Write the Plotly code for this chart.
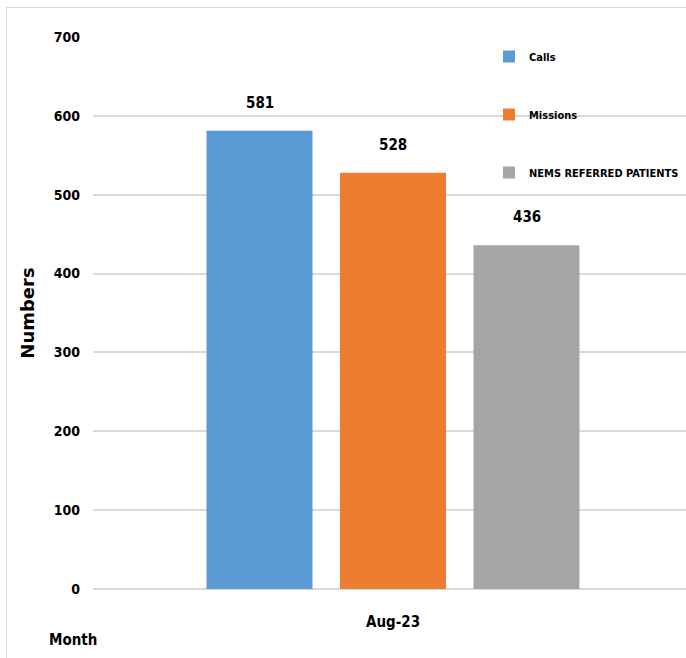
import plotly.graph_objects as go

# Chart data
months = ["Aug-23"]
series_names = ["Calls", "Missions", "NEMS REFERRED PATIENTS"]
series_values = [[581], [528], [436]]
series_colors = ["#5B9BD5", "#ED7D31", "#A5A5A5"]
y_ticks = [0, 100, 200, 300, 400, 500, 600, 700]

W, H = 686, 658
M_L, M_R, M_T, M_B = 93, 0, 37, 69
BARGAP = 0.3325
BARGROUPGAP = 0.206

LABEL_FONT = "Liberation Sans Narrow, Arial Narrow, DejaVu Sans Condensed, sans-serif"

fig = go.Figure()
for name, vals, color in zip(series_names, series_values, series_colors):
    fig.add_trace(go.Bar(
        x=months, y=vals, name=f"<b>{name}</b>", marker_color=color,
        marker_line_width=0, legendgroup=name,
    ))

# Value labels above each bar, positioned from the grouped-bar geometry
n = len(series_names)
slot = (1 - BARGAP) / n
for i, vals in enumerate(series_values):
    for j, v in enumerate(vals):
        fig.add_annotation(
            x=j + (i - (n - 1) / 2) * slot, y=v, xref="x", yref="y",
            text=f"<b>{v}</b>", showarrow=False, yanchor="bottom", yshift=17,
            font=dict(family=LABEL_FONT, size=15, color="#000000"),
        )

pw = W - M_L - M_R
ph = H - M_T - M_B

# "Month" axis caption at the bottom left
fig.add_annotation(
    x=(73 - M_L) / pw, y=-(640 - (H - M_B)) / ph,
    xref="paper", yref="paper", text="<b>Month</b>", showarrow=False,
    xanchor="center", yanchor="middle",
    font=dict(family=LABEL_FONT, size=15, color="#000000"),
)

# Light outer frame of the chart area
fig.add_shape(
    type="rect", xref="paper", yref="paper",
    x0=(6.5 - M_L) / pw, x1=(W + 20 - M_L) / pw,
    y0=-(H + 20 - (H - M_B)) / ph, y1=((H - M_B) - 7.5) / ph,
    line=dict(color="#D9D9D9", width=1), fillcolor="rgba(0,0,0,0)", layer="below",
)

fig.update_layout(
    width=W, height=H,
    margin=dict(l=M_L, r=M_R, t=M_T, b=M_B, autoexpand=False),
    paper_bgcolor="#FFFFFF", plot_bgcolor="#FFFFFF",
    barmode="group", bargap=BARGAP, bargroupgap=BARGROUPGAP,
    font=dict(family=LABEL_FONT, color="#000000"),
    showlegend=True,
    legend=dict(
        x=(489 - M_L) / pw, y=((H - M_B) - 42) / ph, xanchor="left", yanchor="top",
        traceorder="grouped", tracegroupgap=39,
        font=dict(family=LABEL_FONT, size=11, color="#000000"),
        bgcolor="rgba(0,0,0,0)", borderwidth=0,
    ),
    xaxis=dict(
        type="category", range=[-0.5, -0.5 + pw / 600],
        showgrid=False, showline=False, zeroline=False, ticks="",
        tickfont=dict(family=LABEL_FONT, size=15, color="#000000"),
        ticklabelstandoff=22,
    ),
    yaxis=dict(
        range=[0, 700], tickvals=y_ticks, ticktext=[f"<b>{t}</b>" for t in y_ticks],
        showgrid=True, gridcolor="#D9D9D9", gridwidth=1.5,
        zeroline=True, zerolinecolor="#D9D9D9", zerolinewidth=1.5,
        showline=False, ticks="", ticklabelstandoff=12,
        tickfont=dict(family=LABEL_FONT, size=14, color="#000000"),
        title=dict(
            text="<b>Numbers</b>", standoff=14,
            font=dict(family="DejaVu Sans, Arial, sans-serif", size=18, color="#000000"),
        ),
    ),
)
fig.update_xaxes(ticktext=[f"<b>{m}</b>" for m in months], tickvals=months)

fig.write_html("out.html")
